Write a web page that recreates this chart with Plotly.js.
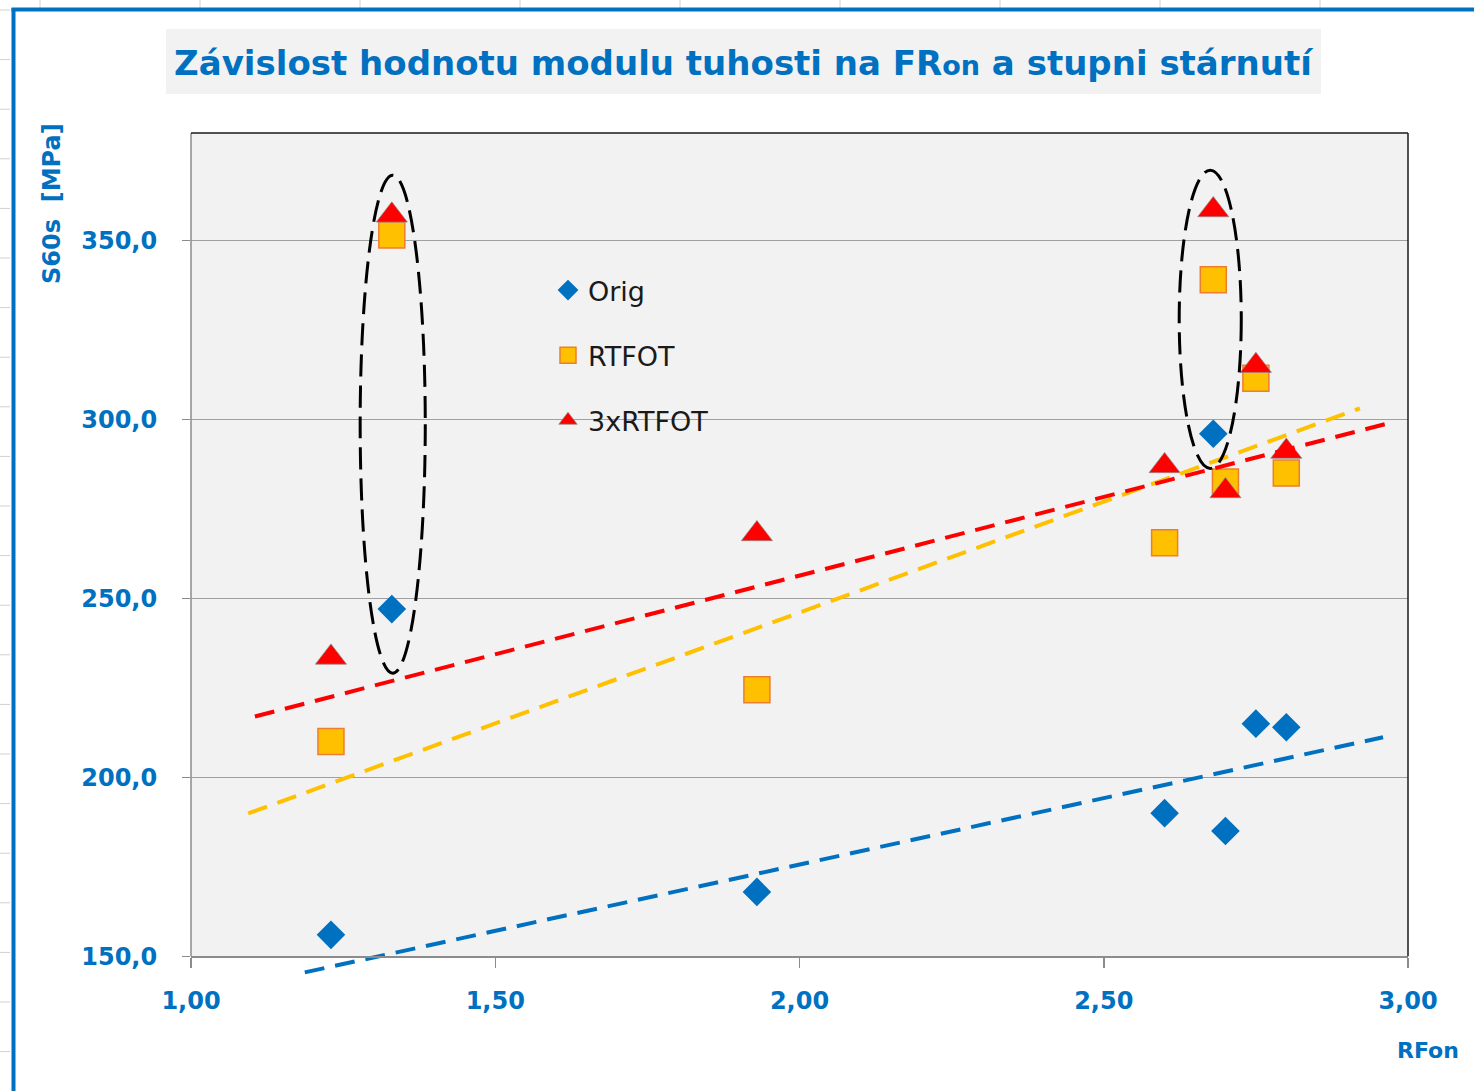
<!DOCTYPE html>
<html>
<head>
<meta charset="utf-8">
<script src="https://cdn.plot.ly/plotly-3.0.1.min.js"></script>
<style>
  html, body { margin: 0; padding: 0; background: #ffffff; }
  #chart { width: 1474px; height: 1091px; }
</style>
</head>
<body>
<div id="chart"></div>
<script>
// ---- data ----
const rfon = [1.23, 1.33, 1.93, 2.60, 2.68, 2.70, 2.75, 2.80];
const origVals = [156, 247, 168, 190, 296, 185, 215, 214];
const rtfotVals = [210, 351.5, 224.5, 265.5, 339, 282.5, 311.5, 285];
const rtfot3Vals = [233.5, 357, 268, 287, 358.5, 280, 315, 291];

// trendline end points (as drawn in the reference)
const trendOrigX = [1.187, 2.959];
const trendOrigY = [145.5, 211.2];
const trendRtfotX = [1.094, 2.921];
const trendRtfotY = [189.9, 303.1];
const trendRtfot3X = [1.105, 2.979];
const trendRtfot3Y = [217.0, 299.4];

// dashed ellipses highlighting groups: [x0, x1, y0, y1]
const ellipse1 = [1.278, 1.385, 229.1, 368.2];
const ellipse2 = [2.624, 2.726, 286.3, 369.6];

const seriesNames = ['Orig', 'RTFOT', '3xRTFOT'];
const xTicks = [1.0, 1.5, 2.0, 2.5, 3.0];
const yTicks = [150, 200, 250, 300, 350];

// ---- styling ----
const BLUE = '#0070C0';
const ORANGE = '#FFC000';
const RED = '#FF0000';
const FONT = 'DejaVu Sans';

const W = 1474, H = 1091;
const M = {l: 191, r: 66, t: 133, b: 115};
const yRange = [144.5, 380];
const xRange = [1.0, 3.0];
const plotW = W - M.l - M.r, plotH = H - M.t - M.b;
const px2paperX = px => (px - M.l) / plotW;
const py2paperY = py => (H - M.b - py) / plotH;
const yBase = (150 - yRange[0]) / (yRange[1] - yRange[0]);

const traces = [
  {
    type: 'scatter', mode: 'markers', name: seriesNames[0], legendgroup: 'a',
    x: rfon, y: origVals,
    marker: {symbol: 'diamond', size: 22, color: BLUE, line: {width: 0}},
    cliponaxis: false
  },
  {
    type: 'scatter', mode: 'markers', name: seriesNames[1], legendgroup: 'b',
    x: rfon, y: rtfotVals,
    marker: {symbol: 'square', size: 26, color: ORANGE, line: {width: 1.5, color: '#ED7D31'}},
    cliponaxis: false
  },
  {
    type: 'scatter', mode: 'markers', name: seriesNames[2], legendgroup: 'c',
    x: rfon, y: rtfot3Vals,
    marker: {symbol: 'triangle-up', size: 27, color: RED, line: {width: 1, color: 'rgba(140,140,140,0.7)'}},
    cliponaxis: false
  },
  {
    type: 'scatter', mode: 'lines', showlegend: false, hoverinfo: 'skip',
    x: trendOrigX, y: trendOrigY,
    line: {color: BLUE, width: 4, dash: '20px,11px'}
  },
  {
    type: 'scatter', mode: 'lines', showlegend: false, hoverinfo: 'skip',
    x: trendRtfotX, y: trendRtfotY,
    line: {color: ORANGE, width: 4, dash: '20px,11px'}
  },
  {
    type: 'scatter', mode: 'lines', showlegend: false, hoverinfo: 'skip',
    x: trendRtfot3X, y: trendRtfot3Y,
    line: {color: RED, width: 4, dash: '20px,11px'}
  }
];

const shapes = [];
// plot area background (only above the x axis)
shapes.push({type: 'rect', xref: 'paper', yref: 'paper', x0: 0, x1: 1, y0: yBase, y1: 1,
  fillcolor: '#F2F2F2', line: {width: 0}, layer: 'below'});
// title box
shapes.push({type: 'rect', xref: 'paper', yref: 'paper',
  x0: px2paperX(166), x1: px2paperX(1321), y0: py2paperY(94), y1: py2paperY(29),
  fillcolor: '#F2F2F2', line: {width: 0}, layer: 'below'});
// left axis line (gray), top & right border (black)
shapes.push({type: 'line', xref: 'paper', yref: 'paper', x0: 0, x1: 0, y0: yBase, y1: 1,
  line: {color: '#8C8C8C', width: 1.5}});
shapes.push({type: 'line', xref: 'paper', yref: 'paper', x0: 0, x1: 1, y0: 1, y1: 1,
  line: {color: '#1a1a1a', width: 1.5}});
shapes.push({type: 'line', xref: 'paper', yref: 'paper', x0: 1, x1: 1, y0: yBase, y1: 1,
  line: {color: '#1a1a1a', width: 1.5}});
// dashed ellipses
[ellipse1, ellipse2].forEach(e => {
  shapes.push({type: 'circle', xref: 'x', yref: 'y', x0: e[0], x1: e[1], y0: e[2], y1: e[3],
    line: {color: '#000000', width: 3, dash: '22px,9px'}, fillcolor: 'rgba(0,0,0,0)', layer: 'above'});
});
// spreadsheet decoration: faint column lines at top, row ticks at left
for (let cx = 40; cx < W; cx += 160) {
  shapes.push({type: 'line', xref: 'paper', yref: 'paper',
    x0: px2paperX(cx), x1: px2paperX(cx), y0: py2paperY(0), y1: py2paperY(8),
    line: {color: '#D0D0D0', width: 1}});
}
for (let ry = 10; ry < H; ry += 49.6) {
  shapes.push({type: 'line', xref: 'paper', yref: 'paper',
    x0: px2paperX(0), x1: px2paperX(10), y0: py2paperY(ry), y1: py2paperY(ry),
    line: {color: '#D0D0D0', width: 1}});
}
// blue outer frame
shapes.push({type: 'line', xref: 'paper', yref: 'paper',
  x0: px2paperX(11.5), x1: px2paperX(W + 5), y0: py2paperY(9.5), y1: py2paperY(9.5),
  line: {color: BLUE, width: 4}});
shapes.push({type: 'line', xref: 'paper', yref: 'paper',
  x0: px2paperX(13.5), x1: px2paperX(13.5), y0: py2paperY(8), y1: py2paperY(H + 5),
  line: {color: BLUE, width: 4}});

const annotations = [
  {xref: 'paper', yref: 'paper', x: px2paperX(52), y: py2paperY(204),
   text: 'S60s\u00A0\u00A0[MPa]', textangle: -90, showarrow: false,
   xanchor: 'center', yanchor: 'middle',
   font: {family: FONT, size: 24, color: BLUE, weight: 'bold'}},
  {xref: 'paper', yref: 'paper', x: px2paperX(1428), y: py2paperY(1050),
   text: 'RFon', showarrow: false, xanchor: 'center', yanchor: 'middle',
   font: {family: FONT, size: 22, color: BLUE, weight: 'bold'}}
];

const layout = {
  width: W, height: H,
  margin: M,
  paper_bgcolor: '#FFFFFF',
  plot_bgcolor: 'rgba(0,0,0,0)',
  showlegend: true,
  title: {
    text: 'Závislost hodnotu modulu tuhosti na FR<span style="font-size:27px">on</span> a stupni stárnutí',
    font: {family: FONT, size: 34, color: BLUE, weight: 'bold'},
    x: 743 / W, xanchor: 'center', xref: 'container',
    y: 1 - 63 / H, yanchor: 'middle', yref: 'container'
  },
  separators: ', ',
  xaxis: {
    range: xRange, anchor: 'free', position: yBase,
    tickvals: xTicks, tickformat: '.2f',
    showgrid: false, zeroline: false,
    showline: true, linecolor: '#8C8C8C', linewidth: 1.5,
    ticks: 'outside', ticklen: 10, tickwidth: 1.5, tickcolor: '#8C8C8C',
    ticklabelstandoff: 12,
    tickfont: {family: FONT, size: 24, color: BLUE, weight: 'bold'}
  },
  yaxis: {
    range: yRange,
    tickvals: yTicks, tickformat: '.1f',
    showgrid: true, gridcolor: '#A0A0A0', gridwidth: 1.5,
    zeroline: false, showline: false,
    ticks: 'outside', ticklen: 8, tickwidth: 1.5, tickcolor: '#8C8C8C',
    ticklabelstandoff: 20,
    tickfont: {family: FONT, size: 24, color: BLUE, weight: 'bold'}
  },
  legend: {
    x: px2paperX(548), y: py2paperY(266), xanchor: 'left', yanchor: 'top',
    bgcolor: 'rgba(0,0,0,0)', borderwidth: 0,
    font: {family: FONT, size: 27, color: '#1a1a1a'},
    tracegroupgap: 27, itemwidth: 30
  },
  shapes: shapes,
  annotations: annotations
};

Plotly.newPlot('chart', traces, layout, {displayModeBar: false, staticPlot: true});
</script>
</body>
</html>
